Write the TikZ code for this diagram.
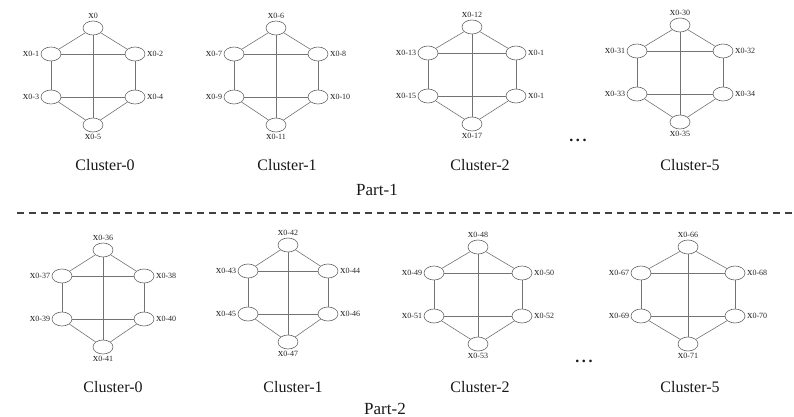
\documentclass[tikz,border=0pt]{standalone}
\usepackage{fontspec}
\setmainfont{Liberation Serif}
\newcommand{\lx}[1]{{\fontsize{11}{11}\selectfont x}{\fontsize{8}{8}\selectfont #1}}
\tikzset{
  vtx/.style={ellipse, draw=black!60, fill=white, line width=0.6pt, minimum width=20pt, minimum height=14pt, inner sep=0pt},
  lab/.style={inner sep=1.5pt, text=black!85},
  edge/.style={draw=black!55, line width=0.6pt},
  clab/.style={font=\fontsize{16}{16}\selectfont, text=black!90},
  plab/.style={font=\fontsize{17}{17}\selectfont, text=black!90},
  sep/.style={draw=black!75, line width=1.1pt, dash pattern=on 7pt off 5pt}
}
\usetikzlibrary{shapes.geometric}
\begin{document}
\begin{tikzpicture}[x=1pt,y=-1pt]
\useasboundingbox (0,0) rectangle (794,417);
\foreach \n/\cx/\ty/\hw/\a/\b/\c/\d/\e/\f in {
  pa/93/28/42/0/0-1/0-2/0-3/0-4/0-5,
  pb/276/28/42/0-6/0-7/0-8/0-9/0-10/0-11,
  pc/472/27/44/0-12/0-13/0-1/0-15/0-1/0-17,
  pd/680/25/43/0-30/0-31/0-32/0-33/0-34/0-35,
  qa/103/250/41/0-36/0-37/0-38/0-39/0-40/0-41,
  qb/288/245/40/0-42/0-43/0-44/0-45/0-46/0-47,
  qc/478/247/44/0-48/0-49/0-50/0-51/0-52/0-53,
  qd/688/247/47/0-66/0-67/0-68/0-69/0-70/0-71}{
  \node[vtx, label={[lab]above:\lx{\a}}] (\n-t) at (\cx,\ty) {};
  \node[vtx, label={[lab]left:\lx{\b}}] (\n-l1) at ({\cx-\hw},{\ty+26}) {};
  \node[vtx, label={[lab]right:\lx{\c}}] (\n-r1) at ({\cx+\hw},{\ty+26}) {};
  \node[vtx, label={[lab]left:\lx{\d}}] (\n-l2) at ({\cx-\hw},{\ty+69}) {};
  \node[vtx, label={[lab]right:\lx{\e}}] (\n-r2) at ({\cx+\hw},{\ty+69}) {};
  \node[vtx, label={[lab]below:\lx{\f}}] (\n-b) at (\cx,{\ty+97}) {};
  \path[edge] (\n-t) -- (\n-l1);
  \path[edge] (\n-t) -- (\n-r1);
  \path[edge] (\n-l1) -- (\n-r1);
  \path[edge] (\n-l1) -- (\n-l2);
  \path[edge] (\n-r1) -- (\n-r2);
  \path[edge] (\n-l2) -- (\n-r2);
  \path[edge] (\n-l2) -- (\n-b);
  \path[edge] (\n-r2) -- (\n-b);
  \path[edge] (\n-t) -- (\n-b);
}
\node[clab] (c10) at (105,165) {Cluster-0};
\node[clab] (c11) at (287,165) {Cluster-1};
\node[clab] (c12) at (480,165) {Cluster-2};
\node[clab] (c15) at (690,165) {Cluster-5};
\node[clab] (d1) at (578,140) {\textbf{.\,.\,.}};
\node[plab] (p1) at (377,190) {Part-1};
\coordinate (s1) at (17,213);
\coordinate (s2) at (792,213);
\path[sep] (s1) -- (s2);
\node[clab] (c20) at (113,387) {Cluster-0};
\node[clab] (c21) at (293,387) {Cluster-1};
\node[clab] (c22) at (480,387) {Cluster-2};
\node[clab] (c25) at (690,387) {Cluster-5};
\node[clab] (d2) at (584,361) {\textbf{.\,.\,.}};
\node[plab] (p2) at (385,409) {Part-2};
\end{tikzpicture}
\end{document}
